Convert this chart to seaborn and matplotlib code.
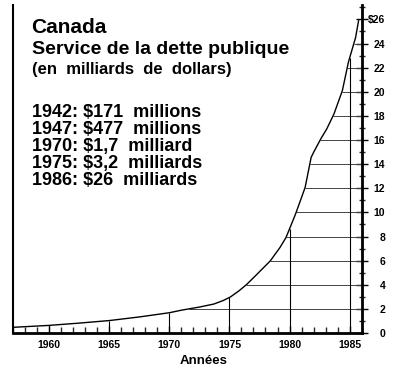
import numpy as np
import pandas as pd
import seaborn as sns
import matplotlib.pyplot as plt
from matplotlib.ticker import MultipleLocator, FixedLocator

# données
years = [1957, 1960, 1962.5, 1965, 1967.5, 1970, 1971, 1972.5, 1973.7, 1974.5,
         1975.1, 1975.8, 1976.45, 1977.3, 1978.4, 1979.2, 1979.7, 1980.05, 1980.5,
         1980.9, 1981.3, 1981.8, 1982.0, 1982.6, 1983.1, 1983.7, 1984.4, 1984.9,
         1985.5, 1985.75]
debt = [0.47, 0.63, 0.82, 1.03, 1.33, 1.68, 1.89, 2.15, 2.4, 2.7,
        3.0, 3.5, 4.04, 4.88, 5.98, 7.08, 7.9, 8.75, 9.86,
        10.96, 12.07, 14.56, 14.97, 16.09, 16.92, 18.16, 20.1, 22.45,
        24.5, 25.9]
x_ticks = [1960, 1965, 1970, 1975, 1980, 1985]
y_ticks = list(range(0, 27, 2))
y_labels = [str(v) for v in y_ticks[:-1]] + [r'\$26']
title_lines = ['Canada', 'Service de la dette publique', '(en  milliards  de  dollars)']
facts = ['1942: $171  millions', '1947: $477  millions', '1970: $1,7  milliard',
         '1975: $3,2  milliards', '1986: $26  milliards']

df = pd.DataFrame({'Année': years, 'Dette': debt})

sns.set_theme(style='white')
plt.rcParams['font.family'] = ['Liberation Sans', 'DejaVu Sans']
plt.rcParams['font.weight'] = 'bold'
plt.rcParams['text.color'] = 'black'

fig = plt.figure(figsize=(4, 3.69), dpi=100)
ax = fig.add_axes([0.033, 0.0976, 0.871, 0.889])

sns.lineplot(data=df, x='Année', y='Dette', color='black', linewidth=1.0, ax=ax, zorder=3)

# quadrillage sous la courbe
for lvl in y_ticks[1:-1]:
    x0 = np.interp(lvl, debt, years)
    ax.hlines(lvl, x0, 1986, color='#444444', linewidth=0.7, zorder=1)
for yr in x_ticks:
    top = np.interp(yr, years, debt)
    ax.vlines(yr, 0, top, color='black', linewidth=0.8, zorder=1)

ax.set_xlim(1957, 1986)
ax.set_ylim(0, 27.2)

ax.spines['top'].set_visible(False)
ax.spines['left'].set_linewidth(1.5)
ax.spines['bottom'].set_linewidth(2)
ax.spines['right'].set_linewidth(2)
for s in ax.spines.values():
    s.set_color('black')

ax.xaxis.set_major_locator(FixedLocator(x_ticks))
ax.xaxis.set_minor_locator(MultipleLocator(1))
ax.tick_params(axis='x', which='major', direction='in', length=5, width=1,
               labelsize=7.5, pad=5, colors='black', bottom=True)
ax.tick_params(axis='x', which='minor', direction='in', length=4, width=1, bottom=True)

ax.yaxis.tick_right()
ax.set_yticks(y_ticks)
ax.set_yticklabels(y_labels)
ax.yaxis.set_minor_locator(MultipleLocator(1))
ax.tick_params(axis='y', which='major', direction='inout', length=8, width=1,
               labelsize=7.5, pad=13, colors='black', right=True)
ax.tick_params(axis='y', which='minor', direction='inout', length=4, width=1, right=True)
for lab in ax.get_xticklabels():
    lab.set_fontweight('bold')
for lab in ax.get_yticklabels():
    lab.set_fontweight('bold')
    lab.set_horizontalalignment('right')

ax.set_xlabel('')
ax.set_ylabel('')
fig.text(0.51, 1 - 361 / 369, 'Années', ha='center', va='center',
         fontsize=9.5, fontweight='bold', color='black')

# textes en haut à gauche
sizes = [15, 14, 12]
bases = [33, 54, 74]
for txt, fs, b in zip(title_lines, sizes, bases):
    fig.text(0.079, 1 - b / 369, txt, fontsize=fs, fontweight='bold',
             va='baseline', color='black')
for i, txt in enumerate(facts):
    fig.text(0.079, 1 - (117 + 17 * i) / 369, txt, fontsize=13, fontweight='bold',
             va='baseline', color='black')

fig.savefig('out.png', dpi=100)
